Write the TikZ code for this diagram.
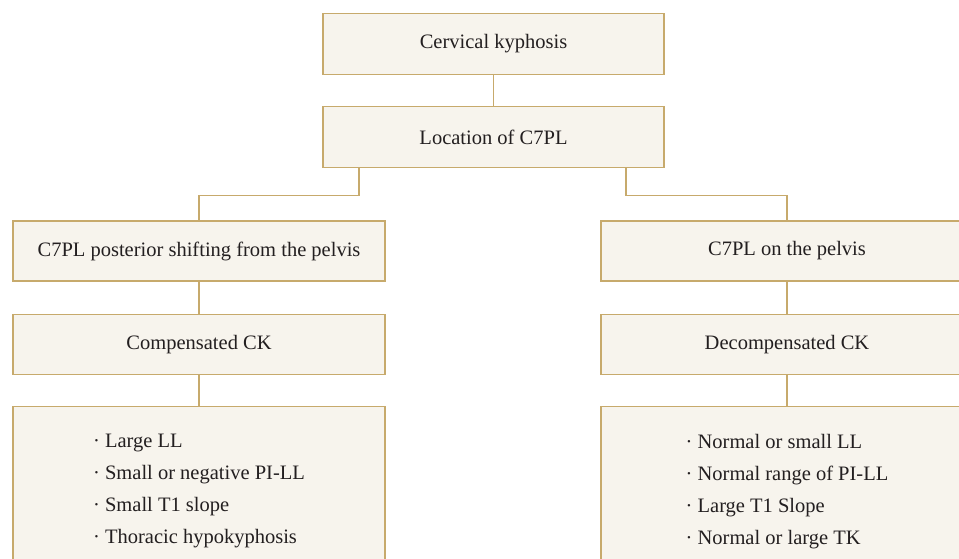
\documentclass[tikz,border=0pt]{standalone}
\usepackage{fontspec}
\setmainfont{Liberation Serif}
\usepackage{tikz}
\usetikzlibrary{positioning}
\definecolor{goldline}{RGB}{199,170,108}
\definecolor{paperfill}{RGB}{247,244,237}
\definecolor{inktext}{RGB}{35,31,32}
\tikzset{
	box/.style={draw=goldline, fill=paperfill, line width=1.2pt,
		text=inktext, font=\fontsize{20.5}{24}\selectfont},
	link/.style={draw=goldline, line width=1.2pt}
}

\begin{document}
\begin{tikzpicture}[x=1pt,y=1pt]

\clip (0,0) rectangle (959,558);

% Cervical kyphosis
\node [box,
	minimum width=341pt,
	minimum height=61pt
] at (493.5,514) (top) {
Cervical kyphosis
};

% Location of C7PL
\node [box,
	minimum width=341pt,
	minimum height=61pt,
	below = 31pt of top
] (loc) {
Location of C7PL
};

% Left branch
\node [box,
	minimum width=372pt,
	minimum height=60pt
] at (199,307) (shift) {
C7PL posterior shifting from the pelvis
};
\node [box,
	minimum width=372pt,
	minimum height=60pt,
	below = 32pt of shift
] (comp) {
Compensated CK
};
\node [box,
	minimum width=372pt,
	minimum height=170pt,
	align=left,
	font=\fontsize{20.5}{32}\selectfont,
	below = 31pt of comp
] (complist) {
· Large LL\\
· Small or negative PI-LL\\
· Small T1 slope\\
· Thoracic hypokyphosis
};

% Right branch
\node [box,
	minimum width=372pt,
	minimum height=60pt
] at (787,307) (onpelvis) {
C7PL on the pelvis
};
\node [box,
	minimum width=372pt,
	minimum height=60pt,
	below = 32pt of onpelvis
] (decomp) {
Decompensated CK
};
\node [box,
	minimum width=372pt,
	minimum height=170pt,
	align=left,
	font=\fontsize{20.5}{32}\selectfont,
	below = 31pt of decomp
] (decomplist) {
· Normal or small LL\\
· Normal range of PI-LL\\
· Large T1 Slope\\
· Normal or large TK
};

% Lines
\draw[link] (top) -- (loc);
\draw[link] ([xshift=-134.5pt]loc.south) -- ++(0,-27) -| (shift.north);
\draw[link] ([xshift=132.5pt]loc.south) -- ++(0,-27) -| (onpelvis.north);
\draw[link] (shift) -- (comp);
\draw[link] (comp) -- (complist);
\draw[link] (onpelvis) -- (decomp);
\draw[link] (decomp) -- (decomplist);

\end{tikzpicture}
\end{document}
